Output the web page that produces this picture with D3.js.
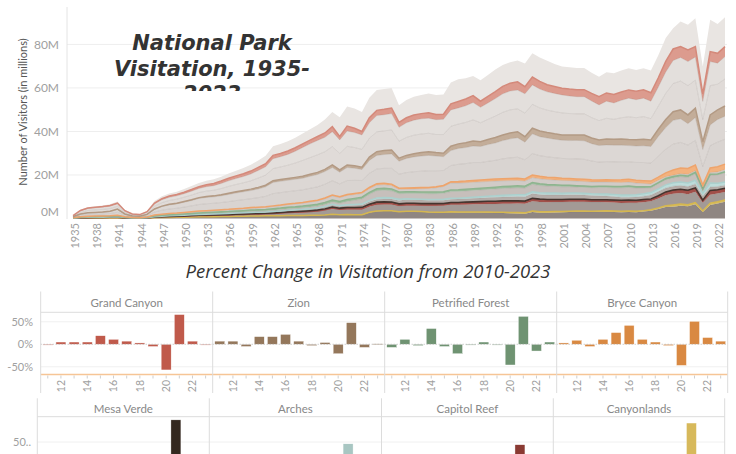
<!DOCTYPE html>
<html><head><meta charset="utf-8">
<script src="https://cdn.jsdelivr.net/npm/d3@7"></script>
<style>body{margin:0;background:#fff;} svg{display:block;font-family:Lato,"Open Sans",sans-serif;}</style>
</head><body><svg id="c" width="736" height="454"></svg>
<script>
// ---------- DATA (millions of visitors, 1935-2023) ----------
const years = d3.range(1935, 2024);
const yTickValues = [0, 20, 40, 60, 80];
const yTickLabels = ["0M", "20M", "40M", "60M", "80M"];
const xTickYears = d3.range(1935, 2023, 3);

const greatSmoky = [0.2,0.3,0.4,0.45,0.5,0.6,0.7,0.4,0.25,0.2,
0.35,0.9,1.1,1.2,1.3,1.5,1.6,1.7,1.8,1.9,
2.0,2.2,2.4,2.6,2.9,3.2,3.6,4.2,4.3,4.5,
4.6,4.8,5.0,5.3,6.2,6.8,8.8,9.0,9.0,9.0,
9.2,9.3,9.3,9.2,7.8,8.2,8.4,8.6,8.9,9.0,
9.1,9.8,10.2,9.6,9.0,9.6,9.9,10.2,9.8,9.6,
9.8,10.6,11.0,11.0,11.0,10.3,9.9,10.0,10.0,10.0,
9.5,9.2,9.5,9.8,9.9,10.0,9.7,9.9,10.2,10.3,
10.8,9.5,11.5,11.5,13.0,12.5,14.6,13.5,13.5];
const grandCanyon = [0.1,0.2,0.25,0.25,0.3,0.35,0.4,0.2,0.1,0.1,
0.15,0.4,0.5,0.55,0.6,0.7,0.75,0.8,0.9,1.0,
1.1,1.2,1.25,1.3,1.35,1.4,1.45,1.55,1.5,1.55,
1.6,1.65,1.7,1.8,2.0,2.3,1.6,2.3,2.0,1.6,
2.3,2.4,2.5,2.6,2.3,2.3,2.4,2.4,2.5,2.4,
2.3,2.8,3.0,3.1,3.2,2.8,3.0,3.2,3.4,3.6,
3.8,3.3,3.6,3.5,3.3,3.2,3.1,3.2,3.2,3.2,
3.5,3.8,3.8,3.9,3.8,3.8,3.9,3.9,3.9,4.3,
4.9,5.3,5.0,5.4,4.8,3.5,4.6,4.5,4.6];
const grayA1 = [0.18,0.63,0.88,0.95,1.0,1.06,1.08,0.59,0.34,0.29,
0.5,1.04,1.3,1.46,1.53,1.62,1.78,1.89,2.02,2.11,
2.34,2.56,2.72,2.88,3.13,3.51,3.8,4.52,4.72,4.97,
5.4,5.96,6.3,6.62,6.62,6.88,6.21,7.02,6.88,6.66,
7.11,7.47,7.42,7.51,6.39,6.75,6.93,6.98,6.93,6.8,
7.02,7.52,7.42,7.65,7.96,7.11,7.56,8.06,8.5,8.68,
8.6,8.86,8.96,8.68,8.42,8.37,8.28,8.06,7.92,7.92,
7.65,7.24,7.83,7.52,8.01,8.55,8.28,8.5,8.01,8.73,
9.81,10.58,10.84,11.02,10.58,8.32,11.02,9.68,10.22];
const grayA2 = [0.22,0.77,1.07,1.15,1.2,1.29,1.32,0.71,0.41,0.36,
0.6,1.26,1.6,1.79,1.87,1.98,2.17,2.31,2.48,2.59,
2.86,3.14,3.33,3.52,3.82,4.29,4.65,5.53,5.78,6.08,
6.6,7.29,7.7,8.08,8.08,8.42,7.59,8.58,8.42,8.14,
8.69,9.13,9.08,9.19,7.81,8.25,8.47,8.52,8.47,8.3,
8.58,9.18,9.08,9.35,9.74,8.69,9.24,9.84,10.4,10.62,
10.5,10.84,10.94,10.62,10.28,10.23,10.12,9.84,9.68,9.68,
9.35,8.86,9.57,9.18,9.79,10.45,10.12,10.4,9.79,10.67,
11.99,12.92,13.26,13.48,12.92,10.18,13.48,11.82,12.48];
const zion = [0.05,0.08,0.1,0.1,0.12,0.13,0.15,0.08,0.04,0.04,
0.06,0.2,0.22,0.25,0.28,0.32,0.35,0.4,0.42,0.45,
0.5,0.55,0.6,0.62,0.65,0.7,0.75,0.8,0.8,0.85,
0.85,0.9,0.9,1.0,1.0,1.2,1.0,1.2,1.1,1.1,
1.5,1.7,1.8,1.8,1.4,1.4,1.5,1.6,1.7,1.6,
1.6,2.0,2.1,2.2,2.3,2.2,2.3,2.5,2.6,2.7,
2.8,2.5,2.6,2.6,2.5,2.5,2.4,2.6,2.5,2.7,
2.6,2.6,2.7,2.7,2.8,2.8,2.9,3.0,3.0,3.3,
3.7,4.0,4.1,4.0,4.3,3.6,4.6,4.4,4.7];
const grayB1 = [0.22,0.59,0.72,0.77,0.81,0.9,1.27,0.59,0.34,0.29,
0.55,1.25,1.67,1.9,2.03,2.25,2.47,2.78,2.92,2.95,
3.07,3.29,3.46,3.64,3.77,4.03,4.39,5.18,5.23,5.21,
5.3,5.33,5.52,5.66,5.86,6.05,5.42,5.95,5.57,5.04,
5.95,6.24,6.34,6.67,5.95,6.53,6.82,6.96,7.06,6.77,
6.34,6.86,7.3,7.39,7.58,7.39,7.73,7.97,8.4,8.74,
8.93,8.11,9.07,8.74,8.64,8.45,8.4,8.35,8.5,8.5,
7.97,7.58,7.68,7.68,7.63,7.44,7.54,7.68,7.63,8.98,
9.98,10.94,10.85,9.89,10.46,7.82,9.5,10.42,10.56];
const grayB2 = [0.23,0.63,0.78,0.83,0.87,0.97,1.38,0.63,0.37,0.32,
0.59,1.35,1.81,2.05,2.19,2.43,2.68,3.02,3.16,3.2,
3.33,3.56,3.74,3.94,4.08,4.37,4.76,5.62,5.67,5.64,
5.75,5.77,5.98,6.14,6.34,6.55,5.88,6.45,6.03,5.46,
6.45,6.76,6.86,7.23,6.45,7.07,7.38,7.54,7.64,7.33,
6.86,7.44,7.9,8.01,8.22,8.01,8.37,8.63,9.1,9.46,
9.67,8.79,9.83,9.46,9.36,9.15,9.1,9.05,9.2,9.2,
8.63,8.22,8.32,8.32,8.27,8.06,8.16,8.32,8.27,9.72,
10.82,11.86,11.75,10.71,11.34,8.48,10.3,11.28,11.44];
const bryce = [0.02,0.04,0.05,0.05,0.06,0.07,0.08,0.04,0.02,0.02,
0.03,0.1,0.12,0.14,0.15,0.17,0.18,0.2,0.21,0.22,
0.23,0.24,0.25,0.25,0.26,0.27,0.28,0.3,0.3,0.31,
0.32,0.33,0.34,0.35,0.36,0.4,0.38,0.42,0.45,0.5,
0.6,0.62,0.63,0.6,0.5,0.55,0.5,0.48,0.47,0.47,
0.5,0.6,0.7,0.75,0.8,0.86,0.88,0.9,0.95,0.98,
1.0,1.0,1.2,1.15,1.1,1.1,1.05,1.0,1.0,1.0,
1.0,0.9,1.0,1.05,1.2,1.28,1.3,1.3,1.3,1.4,
1.8,2.4,2.6,2.7,2.6,1.5,2.1,2.4,2.5];
const grayC = [0.06,0.16,0.2,0.22,0.24,0.26,0.3,0.16,0.09,0.08,
0.14,0.31,0.39,0.44,0.48,0.53,0.58,0.63,0.66,0.69,
0.72,0.76,0.81,0.84,0.89,0.93,0.97,1.04,1.12,1.21,
1.27,1.34,1.43,1.52,1.7,1.9,1.75,1.85,1.8,1.7,
1.7,1.7,1.67,1.6,1.2,1.15,1.3,1.5,1.7,2.0,
2.4,3.2,3.1,3.0,3.0,2.9,2.85,2.8,2.7,2.6,
2.5,2.4,2.3,2.3,2.25,2.2,2.2,2.15,2.1,2.1,
2.05,2.0,1.95,1.9,1.85,1.8,1.7,1.5,1.3,1.1,
0.8,0.6,0.7,0.75,0.8,0.5,0.8,0.9,1.0];
const petrified = [0.03,0.08,0.1,0.11,0.12,0.13,0.15,0.08,0.05,0.04,
0.07,0.16,0.2,0.24,0.26,0.3,0.34,0.38,0.41,0.44,
0.47,0.49,0.52,0.55,0.58,0.6,0.62,0.65,0.68,0.71,
0.74,0.77,0.8,0.83,0.87,0.9,0.85,0.88,0.88,0.86,
0.88,0.9,0.9,0.88,0.8,0.78,0.76,0.75,0.74,0.72,
0.7,0.72,0.74,0.76,0.78,0.8,0.8,0.82,0.83,0.84,
0.85,0.8,0.8,0.78,0.76,0.7,0.68,0.65,0.62,0.6,
0.6,0.6,0.62,0.62,0.64,0.65,0.6,0.55,0.5,0.55,
0.65,0.65,0.65,0.64,0.64,0.3,0.47,0.42,0.5];
const grayD = [0.04,0.11,0.13,0.15,0.16,0.17,0.2,0.11,0.06,0.05,
0.09,0.19,0.23,0.26,0.28,0.3,0.32,0.35,0.36,0.38,
0.39,0.41,0.43,0.45,0.48,0.5,0.52,0.56,0.6,0.66,
0.7,0.75,0.8,0.86,0.96,1.1,1.1,1.5,1.9,2.3,
2.8,3.3,3.3,3.2,2.6,2.5,2.55,2.6,2.65,2.7,
2.8,3.1,3.1,3.1,3.1,3.1,3.1,3.15,3.15,3.2,
3.2,3.1,3.4,3.3,3.2,3.1,2.95,2.9,2.8,2.7,
2.8,2.9,3.0,3.1,3.3,3.5,3.1,2.7,2.2,2.3,
2.3,2.2,2.5,2.6,3.0,1.5,3.5,3.9,4.2];
const arches = [0,0.01,0.01,0.01,0.01,0.02,0.02,0.01,0.01,0.01,
0.01,0.02,0.02,0.03,0.03,0.03,0.04,0.05,0.05,0.06,
0.06,0.07,0.08,0.08,0.09,0.1,0.11,0.12,0.14,0.16,
0.18,0.2,0.22,0.24,0.27,0.3,0.3,0.35,0.4,0.45,
0.55,0.65,0.7,0.6,0.5,0.3,0.32,0.33,0.34,0.35,
0.36,0.4,0.45,0.5,0.55,0.6,0.65,0.7,0.75,0.8,
0.86,0.85,0.85,0.86,0.86,0.86,0.8,0.77,0.76,0.75,
0.78,0.83,0.86,0.93,0.99,1.0,1.04,1.07,1.08,1.28,
1.4,1.58,1.54,1.66,1.66,1.24,1.81,1.46,1.48];
const grayE = [0.03,0.08,0.1,0.11,0.12,0.13,0.15,0.08,0.05,0.04,
0.07,0.16,0.2,0.22,0.24,0.27,0.3,0.32,0.34,0.36,
0.38,0.4,0.43,0.45,0.48,0.5,0.52,0.55,0.58,0.61,
0.63,0.66,0.7,0.74,0.82,0.9,0.85,0.95,1.0,1.05,
1.15,1.3,1.3,1.3,1.55,1.7,1.65,1.6,1.55,1.5,
1.5,1.5,1.5,1.55,1.6,1.65,1.7,1.75,1.8,1.85,
1.9,1.95,2.15,2.1,2.1,2.1,2.1,2.1,2.08,2.05,
1.9,1.8,1.7,1.6,1.45,1.3,1.45,1.6,1.8,1.9,
1.85,1.8,1.75,1.7,1.8,1.9,1.6,1.5,1.4];
const mesaVerde = [0.01,0.03,0.04,0.04,0.05,0.05,0.06,0.03,0.02,0.02,
0.03,0.07,0.09,0.1,0.11,0.12,0.13,0.14,0.15,0.16,
0.17,0.17,0.18,0.19,0.2,0.2,0.21,0.23,0.25,0.28,
0.3,0.33,0.36,0.4,0.45,0.5,0.5,0.55,0.6,0.65,
0.7,0.78,0.8,0.78,0.7,0.75,0.72,0.68,0.65,0.62,
0.6,0.6,0.62,0.64,0.64,0.65,0.66,0.67,0.68,0.69,
0.7,0.68,0.7,0.66,0.62,0.56,0.55,0.55,0.52,0.5,
0.55,0.56,0.56,0.56,0.56,0.56,0.55,0.5,0.46,0.5,
0.55,0.58,0.6,0.56,0.55,0.29,0.55,0.5,0.5];
const capitolReef = [0,0,0,0.01,0.01,0.01,0.01,0,0,0,
0,0.01,0.01,0.01,0.02,0.02,0.02,0.02,0.03,0.03,
0.03,0.03,0.04,0.04,0.05,0.05,0.05,0.06,0.07,0.08,
0.09,0.1,0.11,0.12,0.13,0.15,0.15,0.2,0.25,0.3,
0.35,0.38,0.4,0.35,0.3,0.3,0.3,0.3,0.3,0.3,
0.33,0.33,0.38,0.42,0.5,0.55,0.57,0.6,0.62,0.63,
0.65,0.63,0.7,0.68,0.65,0.6,0.58,0.58,0.58,0.6,
0.55,0.55,0.6,0.6,0.63,0.66,0.67,0.66,0.66,0.79,
0.94,1.06,1.15,1.23,1.23,0.98,1.4,1.23,1.26];
const grayF = [0.05,0.12,0.15,0.17,0.18,0.2,0.23,0.12,0.07,0.06,
0.11,0.25,0.32,0.37,0.41,0.46,0.51,0.56,0.59,0.62,
0.65,0.68,0.73,0.77,0.81,0.85,0.9,1.02,1.15,1.32,
1.4,1.5,1.65,1.8,2.2,2.65,2.4,2.5,2.5,2.5,
2.7,2.9,2.9,2.9,2.6,2.6,2.7,2.8,2.95,3.05,
3.1,3.4,3.4,3.45,3.5,3.6,3.7,3.8,3.95,4.05,
4.1,4.2,4.5,4.45,4.4,4.4,4.35,4.35,4.3,4.3,
4.2,4.1,4.0,3.95,3.9,3.85,3.85,3.9,3.9,4.3,
4.8,5.2,5.1,4.8,5.0,3.7,3.9,3.8,3.6];
const canyonlands = [0,0,0,0,0,0,0,0,0,0,
0,0,0,0.01,0.01,0.01,0.01,0.01,0.01,0.01,
0.01,0.01,0.01,0.02,0.02,0.02,0.02,0.02,0.02,0.02,
0.02,0.03,0.03,0.04,0.04,0.05,0.05,0.06,0.07,0.07,
0.08,0.1,0.1,0.1,0.08,0.07,0.08,0.08,0.09,0.09,
0.1,0.2,0.22,0.24,0.25,0.27,0.3,0.33,0.36,0.4,
0.44,0.43,0.45,0.43,0.42,0.4,0.4,0.4,0.4,0.4,
0.4,0.4,0.42,0.42,0.43,0.44,0.44,0.45,0.46,0.54,
0.63,0.78,0.74,0.74,0.73,0.49,0.91,0.78,0.82];
const grayG = [0.06,0.17,0.22,0.23,0.25,0.26,0.3,0.17,0.08,0.08,
0.15,0.33,0.42,0.48,0.51,0.59,0.67,0.74,0.79,0.83,
0.89,0.94,1.02,1.06,1.14,1.18,1.2,1.25,1.29,1.34,
1.35,1.39,1.46,1.5,1.6,1.95,1.67,1.74,1.65,1.62,
2.79,3.37,3.5,3.49,3.07,3.3,3.22,3.08,2.86,2.8,
2.81,2.85,2.79,2.79,2.78,2.72,2.69,2.58,2.51,2.36,
2.3,2.16,2.95,2.69,2.64,2.78,2.84,2.95,3.04,3.0,
2.97,3.06,3.09,2.97,2.85,2.96,2.9,3.17,3.54,4.34,
5.28,5.45,5.87,5.62,6.59,3.0,6.16,6.91,7.74];

// Percent change in visitation, 2011-2023 (%)
const pctYears = d3.range(2011, 2024);
const pctAxisYears = [2012, 2014, 2016, 2018, 2020, 2022];
const pctGrandCanyon = [-1, 5, 5, 5, 19, 11, 7, 3, -5, -57, 66, 7, -1];
const pctZion = [7, 7, -5, 17, 17, 22, 7, -3, 4, -21, 48, -7, 1];
const pctPetrified = [-7, 11, -3, 35, -5, -21, -1, 5, -1, -46, 62, -15, 5];
const pctBryce = [3, 9, -5, 11, 26, 42, 11, 5, -3, -47, 51, 15, 7];
const pctMesaVerde = [-4, 0, -5, 10, 9, 6, 3, -6, 2, -48, 99, -9, 2];
const pctArches = [3, 1, 0, 18, 9, 13, -3, 8, 0, -25, 46, -19, 1];
const pctCapitolReef = [2, -2, 0, 18, 19, 13, 9, 7, 0, -20, 44, -12, 2];
const pctCanyonlands = [0, 2, 1, 17, 16, 20, -5, 0, -1, -33, 92, -14, 5];

// ---------- STYLES ----------
const seriesData = {grayG, canyonlands, grayF, capitolReef, mesaVerde, grayE, arches, grayD,
  petrified, grayC, bryce, grayB2, grayB1, zion, grayA2, grayA1, grandCanyon, greatSmoky};
const stackKeys = ["grayG","canyonlands","grayF","capitolReef","mesaVerde","grayE","arches","grayD",
  "petrified","grayC","bryce","grayB2","grayB1","zion","grayA2","grayA1","grandCanyon","greatSmoky"];
const fills = {grayG:"#8f8682", canyonlands:"#dcc163", grayF:"#a39a96", capitolReef:"#a24f49",
  mesaVerde:"#4a3a33", grayE:"#b5ada9", arches:"#bddcda", grayD:"#c6bfbb", petrified:"#a0c0a1",
  grayC:"#d1cbc7", bryce:"#f3b27e", grayB2:"#d9d4d1", grayB1:"#dcd7d4", zion:"#c3ad99",
  grayA2:"#e0dbd8", grayA1:"#e3dfdc", grandCanyon:"#dc9b8e", greatSmoky:"#e9e5e2"};
const strokes = {canyonlands:"#d5b74f", capitolReef:"#a24f49", mesaVerde:"#45352f", arches:"#abd0cd",
  petrified:"#8eb48f", bryce:"#eea46c", zion:"#b39a84", grandCanyon:"#d4897a"};

const svg = d3.select("#c");

// ---------- TOP CHART ----------
const x = d3.scaleLinear().domain([1935, 2023]).range([73, 725]);
const y = d3.scaleLinear().domain([0, 97.2]).range([218.5, 7]);

const table = years.map((yr, i) => {
  const r = {year: yr};
  stackKeys.forEach(k => r[k] = seriesData[k][i]);
  return r;
});
const stacked = d3.stack().keys(stackKeys)(table);

const topG = svg.append("g");
topG.selectAll("line.grid").data(yTickValues.filter(v => v > 0)).join("line")
  .attr("x1", 67).attr("x2", 727).attr("y1", d => y(d)).attr("y2", d => y(d))
  .attr("stroke", "#eeeeee").attr("stroke-width", 1);
topG.append("line").attr("x1", 67).attr("x2", 67).attr("y1", 7).attr("y2", 219)
  .attr("stroke", "#e4e4e4");

const area = d3.area().x(d => x(d.data.year)).y0(d => y(d[0])).y1(d => y(d[1]));
const topLine = d3.line().x(d => x(d.data.year)).y(d => y(d[1]));

topG.selectAll("path.area").data(stacked).join("path")
  .attr("d", area).attr("fill", d => fills[d.key]).attr("stroke", "none");
topG.selectAll("path.edge").data(stacked.filter(s => s.key !== "greatSmoky")).join("path")
  .attr("d", topLine).attr("fill", "none")
  .attr("stroke", d => strokes[d.key] || "rgba(120,110,105,0.22)")
  .attr("stroke-width", d => strokes[d.key] ? 1.5 : 0.8);

// y axis labels
topG.selectAll("text.yl").data(yTickValues).join("text")
  .attr("x", 59).attr("y", d => Math.min(y(d), 212)).attr("dy", "0.35em")
  .attr("text-anchor", "end").attr("font-size", 12).attr("fill", "#a0a0a0")
  .text((d, i) => yTickLabels[i]);
// x axis labels
topG.selectAll("text.xl").data(xTickYears).join("text")
  .attr("transform", d => `translate(${x(d) + 2},223) rotate(-90)`)
  .attr("dy", "0.35em").attr("text-anchor", "end")
  .attr("font-size", 11).attr("fill", "#a0a0a0").text(d => d);
// y title
topG.append("text").attr("transform", "translate(23,112) rotate(-90)")
  .attr("dy", "0.35em").attr("text-anchor", "middle").attr("font-size", 11)
  .attr("fill", "#555").text("Number of Visitors (in millions)");

// Title (clipped like the reference)
svg.append("clipPath").attr("id", "tclip").append("rect")
  .attr("x", 60).attr("y", 0).attr("width", 320).attr("height", 91);
const tg = svg.append("g").attr("clip-path", "url(#tclip)");
["National Park", "Visitation, 1935-", "2023"].forEach((t, i) => {
  tg.append("text").attr("x", 212).attr("y", 50 + i * 25.5)
    .attr("text-anchor", "middle").attr("font-family", "'DejaVu Sans',sans-serif")
    .attr("font-weight", 700).attr("font-style", "italic").attr("font-size", 21)
    .attr("fill", "#333").text(t);
});

// ---------- SMALL MULTIPLES ----------
svg.append("text").attr("x", 368).attr("y", 278).attr("text-anchor", "middle")
  .attr("font-family", "'Open Sans',sans-serif").attr("font-style", "italic")
  .attr("font-size", 18.5).attr("fill", "#333").text("Percent Change in Visitation from 2010-2023");

const rows = [
  {bounds: [40.7, 212.7, 384.7, 556.7, 727.7], headTop: 291.5, headY: 303, headLine: 312.3,
   yScale: d3.scaleLinear().domain([-66, 71]).range([374, 312.3]), bottom: 393,
   ticks: [50, 0, -50], tickLabels: ["50%", "0%", "-50%"], labelX: 33, axis: true,
   panels: [{name: "Grand Canyon", values: pctGrandCanyon, color: "#c05a4b"},
            {name: "Zion", values: pctZion, color: "#94775b"},
            {name: "Petrified Forest", values: pctPetrified, color: "#6f9372"},
            {name: "Bryce Canyon", values: pctBryce, color: "#d98942"}]},
  {bounds: [37.3, 209.3, 381.5, 553.3, 724.7], headTop: 398.3, headY: 408.5, headLine: 416.7,
   yScale: d3.scaleLinear().domain([0, 106]).range([464.6, 416.7]), bottom: 454,
   ticks: [50], tickLabels: ["50.."], labelX: 31, axis: false,
   panels: [{name: "Mesa Verde", values: pctMesaVerde, color: "#34281f"},
            {name: "Arches", values: pctArches, color: "#a8c6c2"},
            {name: "Capitol Reef", values: pctCapitolReef, color: "#8a3a33"},
            {name: "Canyonlands", values: pctCanyonlands, color: "#d7b95b"}]}
];

rows.forEach(row => {
  const g = svg.append("g");
  const ys = row.yScale;
  const x0 = row.bounds[0], x1 = row.bounds[row.bounds.length - 1];
  row.ticks.filter(t => t !== 0).forEach(t => {
    g.append("line").attr("x1", x0).attr("x2", x1).attr("y1", ys(t)).attr("y2", ys(t))
      .attr("stroke", "#f0f0f0");
  });
  row.panels.forEach((p, i) => {
    const px0 = row.bounds[i], px1 = row.bounds[i + 1];
    const xb = d3.scaleBand().domain(pctYears).range([px0 + 0.5, px1 - 0.5]).paddingInner(0.24).paddingOuter(0.12);
    g.selectAll(null).data(p.values).join("rect")
      .attr("x", (d, j) => xb(pctYears[j])).attr("width", xb.bandwidth())
      .attr("y", d => ys(Math.max(0, d))).attr("height", d => Math.max(0.8, Math.abs(ys(d) - ys(0))))
      .attr("fill", p.color).attr("stroke", "#fff").attr("stroke-width", 0.4);
    g.append("text").attr("x", (px0 + px1) / 2).attr("y", row.headY).attr("dy", "0.35em")
      .attr("text-anchor", "middle").attr("font-size", 11.5).attr("fill", "#888").text(p.name);
    if (row.axis) {
      g.append("line").attr("x1", px0).attr("x2", px1).attr("y1", ys(0)).attr("y2", ys(0))
        .attr("stroke", "#b8b8b8").attr("stroke-dasharray", "1,2");
      g.selectAll(null).data(pctYears).join("line")
        .attr("x1", d => xb(d) + xb.bandwidth() / 2).attr("x2", d => xb(d) + xb.bandwidth() / 2)
        .attr("y1", 375.5).attr("y2", 378.5).attr("stroke", "#cfcfcf");
      g.selectAll(null).data(pctAxisYears).join("text")
        .attr("transform", d => `translate(${xb(d) + xb.bandwidth() / 2},380) rotate(-90)`)
        .attr("dy", "0.35em").attr("text-anchor", "end").attr("font-size", 10.5)
        .attr("fill", "#a0a0a0").text(d => String(d).slice(2));
    }
  });
  if (row.axis) {
    g.append("line").attr("x1", x0).attr("x2", x1).attr("y1", 374.5).attr("y2", 374.5)
      .attr("stroke", "#f6c596").attr("stroke-width", 1.6);
  }
  row.bounds.forEach(b => {
    g.append("line").attr("x1", b).attr("x2", b).attr("y1", row.headTop).attr("y2", row.bottom)
      .attr("stroke", "#dcdcdc");
  });
  g.append("line").attr("x1", x0).attr("x2", x1).attr("y1", row.headLine).attr("y2", row.headLine)
    .attr("stroke", "#dcdcdc");
  row.ticks.forEach((t, k) => {
    g.append("text").attr("x", row.labelX).attr("y", ys(t)).attr("dy", "0.35em")
      .attr("text-anchor", "end").attr("font-size", 11).attr("fill", "#a0a0a0").text(row.tickLabels[k]);
  });
});
</script></body></html>
